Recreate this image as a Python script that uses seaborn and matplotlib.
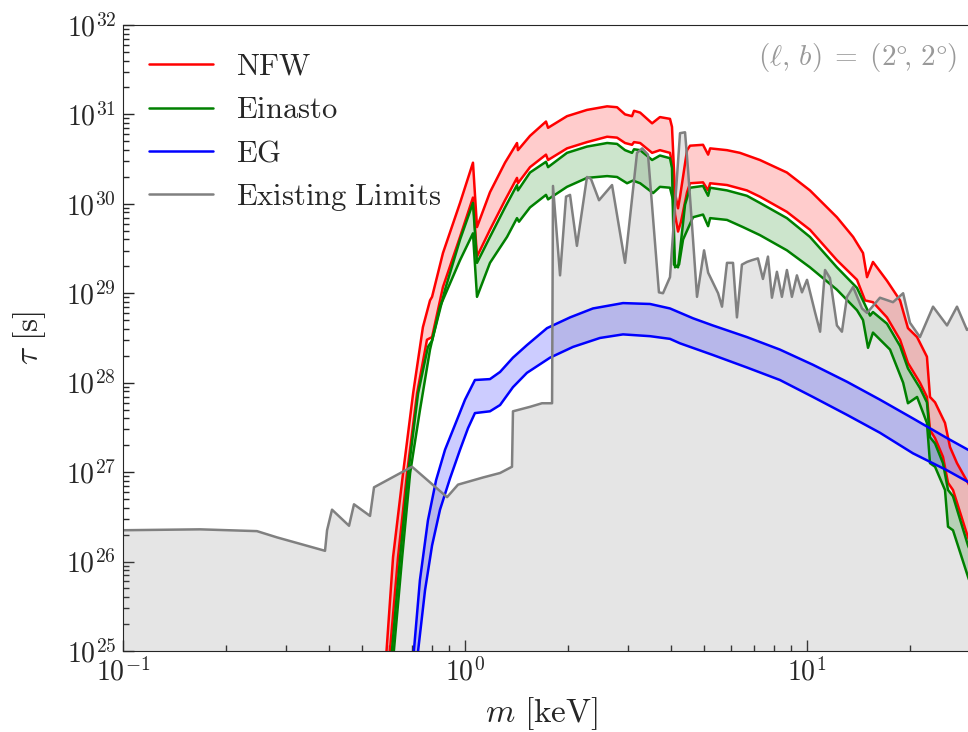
import numpy as np
import matplotlib
matplotlib.use("Agg")
import matplotlib.pyplot as plt
from matplotlib import ticker
import seaborn as sns

# mass m [keV] and log10(tau / s)
nfw_hi_m = [0.587, 0.616, 0.659, 0.705, 0.753, 0.790, 0.801, 0.862, 0.967, 1.055,
            1.084, 1.183, 1.309, 1.419, 1.428, 1.549, 1.725, 1.749, 1.987, 2.273,
            2.603, 2.783, 2.937, 3.078, 3.120, 3.251, 3.524, 3.715, 3.975, 4.029,
            4.112, 4.196, 4.253, 4.459, 4.550, 4.965, 5.139, 5.209, 5.834, 6.365,
            7.283, 8.734, 10.20, 12.23, 13.64, 14.58, 14.98, 15.59, 17.13, 18.71,
            19.73, 20.98, 22.42, 22.89, 23.68, 25.32, 26.19, 27.45, 29.56, 34.3]
nfw_hi_lt = [24.9, 26.05, 26.99, 27.88, 28.62, 28.92, 28.96, 29.45, 30.01, 30.46,
             29.74, 30.13, 30.46, 30.68, 30.60, 30.76, 30.92, 30.85, 30.98, 31.05,
             31.09, 31.08, 31.00, 30.98, 31.04, 31.02, 30.90, 30.97, 30.95, 30.86,
             30.12, 29.95, 30.08, 30.60, 30.65, 30.66, 30.55, 30.62, 30.60, 30.57,
             30.49, 30.35, 30.15, 29.85, 29.63, 29.45, 29.18, 29.35, 29.14, 28.92,
             28.61, 28.51, 28.29, 27.84, 27.78, 27.55, 27.28, 27.10, 26.88, 26.41]

nfw_lo_m = [0.600, 0.637, 0.677, 0.724, 0.774, 0.801, 0.862, 0.967, 1.055, 1.084,
            1.183, 1.309, 1.419, 1.428, 1.549, 1.725, 1.749, 1.987, 2.273, 2.603,
            2.783, 2.937, 3.078, 3.120, 3.251, 3.524, 3.715, 3.975, 4.029, 4.112,
            4.196, 4.281, 4.459, 4.550, 4.965, 5.139, 5.209, 5.834, 6.671, 7.283,
            8.734, 10.20, 12.23, 14.00, 14.78, 15.59, 17.13, 18.71, 19.73, 21.39,
            22.42, 22.89, 23.68, 24.98, 25.84, 26.72, 29.56, 34.3]
nfw_lo_lt = [24.9, 26.05, 26.99, 27.88, 28.48, 28.51, 29.07, 29.63, 30.07, 29.41,
             29.71, 30.04, 30.29, 30.23, 30.41, 30.55, 30.49, 30.62, 30.69, 30.75,
             30.74, 30.68, 30.66, 30.69, 30.68, 30.57, 30.60, 30.57, 30.46, 29.88,
             29.69, 29.80, 30.13, 30.23, 30.24, 30.15, 30.23, 30.21, 30.15, 30.08,
             29.91, 29.71, 29.37, 29.15, 28.92, 28.90, 28.73, 28.48, 28.22, 28.00,
             27.84, 27.47, 27.38, 27.17, 26.88, 26.80, 26.27, 25.68]

ein_hi_m = [0.608, 0.646, 0.682, 0.729, 0.779, 0.801, 0.874, 0.967, 1.055, 1.084,
            1.183, 1.309, 1.419, 1.428, 1.549, 1.725, 1.749, 1.987, 2.273, 2.603,
            2.783, 2.937, 3.078, 3.120, 3.251, 3.524, 3.715, 3.975, 4.029, 4.084,
            4.196, 4.253, 4.399, 4.550, 4.965, 5.139, 5.209, 5.834, 6.671, 7.283,
            8.734, 10.20, 12.23, 14.00, 14.78, 15.29, 15.59, 17.13, 18.71, 19.73,
            21.39, 22.42, 22.89, 23.68, 24.98, 25.84, 26.72, 29.56, 34.3]
ein_hi_lt = [24.9, 26.05, 26.99, 27.88, 28.40, 28.47, 29.04, 29.60, 30.01, 29.34,
             29.63, 29.96, 30.21, 30.15, 30.35, 30.47, 30.41, 30.57, 30.64, 30.68,
             30.67, 30.60, 30.57, 30.61, 30.60, 30.49, 30.54, 30.51, 30.40, 29.32,
             29.29, 29.48, 29.99, 30.18, 30.20, 30.09, 30.18, 30.15, 30.09, 30.01,
             29.84, 29.63, 29.29, 29.06, 28.87, 28.75, 28.79, 28.66, 28.41, 28.16,
             27.94, 27.78, 27.39, 27.32, 27.10, 26.80, 26.73, 26.18, 25.57]

ein_lo_m = [0.616, 0.655, 0.691, 0.738, 0.790, 0.845, 0.967, 1.055, 1.084, 1.183,
            1.327, 1.419, 1.438, 1.549, 1.725, 1.749, 1.987, 2.273, 2.603, 2.783,
            2.977, 3.099, 3.251, 3.548, 3.715, 3.975, 4.057, 4.112, 4.225, 4.340,
            4.642, 4.965, 5.139, 5.209, 5.834, 6.494, 7.283, 8.734, 10.20, 12.23,
            14.00, 14.58, 15.08, 15.59, 17.49, 19.10, 19.73, 20.98, 22.42, 22.89,
            23.68, 25.32, 25.84, 26.72, 29.56, 34.3]
ein_lo_lt = [24.9, 26.05, 26.99, 27.69, 28.37, 28.85, 29.37, 29.67, 28.96, 29.34,
             29.63, 29.84, 29.80, 29.96, 30.10, 30.05, 30.19, 30.29, 30.31, 30.30,
             30.23, 30.26, 30.23, 30.12, 30.19, 30.18, 30.04, 29.29, 29.32, 29.60,
             29.85, 29.88, 29.75, 29.84, 29.82, 29.74, 29.65, 29.48, 29.29, 29.04,
             28.81, 28.70, 28.39, 28.56, 28.37, 28.00, 27.77, 27.84, 27.55, 27.10,
             27.06, 26.80, 26.39, 26.35, 25.83, 25.12]

eg_hi_m = [0.705, 0.738, 0.779, 0.823, 0.874, 0.935, 1.000, 1.069, 1.183, 1.266,
           1.381, 1.517, 1.737, 2.028, 2.366, 2.897, 3.475, 3.975, 4.642, 5.303,
           6.671, 8.332, 10.41, 13.09, 16.34, 20.41, 25.67, 29.56, 34.3]
eg_hi_lt = [24.9, 25.79, 26.46, 26.91, 27.25, 27.53, 27.81, 28.03, 28.04, 28.12,
            28.28, 28.42, 28.61, 28.73, 28.83, 28.89, 28.88, 28.83, 28.72, 28.64,
            28.51, 28.37, 28.20, 28.01, 27.81, 27.60, 27.38, 27.25, 27.10]

eg_lo_m = [0.724, 0.764, 0.801, 0.845, 0.904, 0.967, 1.020, 1.069, 1.183, 1.266,
           1.381, 1.517, 1.773, 2.069, 2.481, 2.897, 3.475, 3.975, 4.253, 5.303,
           6.671, 8.332, 10.41, 13.09, 16.34, 20.41, 25.67, 29.56, 34.3]
eg_lo_lt = [24.9, 25.68, 26.18, 26.58, 26.93, 27.25, 27.49, 27.66, 27.68, 27.75,
            27.95, 28.11, 28.28, 28.40, 28.50, 28.54, 28.52, 28.49, 28.44, 28.31,
            28.17, 28.03, 27.84, 27.64, 27.44, 27.21, 27.02, 26.89, 26.74]

lim_m = [0.1, 0.168, 0.2464, 0.282, 0.3896, 0.395, 0.4084, 0.458, 0.4735, 0.5275,
         0.5419, 0.6998, 0.886, 0.954, 1.129, 1.266, 1.372, 1.381, 1.549, 1.679,
         1.797, 1.808, 1.896, 1.974, 2.028, 2.124, 2.273, 2.334, 2.465, 2.691,
         2.937, 3.184, 3.296, 3.428, 3.690, 3.792, 3.975, 4.253, 4.399, 4.489,
         4.642, 4.768, 5.000, 5.139, 5.495, 5.642, 5.834, 6.076, 6.239, 6.451,
         6.671, 6.900, 7.186, 7.432, 7.688, 7.897, 8.166, 8.445, 8.734, 9.033,
         9.342, 9.667, 10.00, 10.55, 10.92, 11.29, 11.67, 12.23, 12.65, 13.09,
         13.64, 14.48, 14.98, 16.34, 17.84, 19.10, 20.00, 21.39, 23.36, 25.67,
         27.45, 29.36, 34.3]
lim_lt = [26.35, 26.36, 26.34, 26.27, 26.12, 26.35, 26.58, 26.40, 26.64, 26.51,
          26.83, 27.06, 26.72, 26.86, 26.94, 26.99, 27.06, 27.68, 27.73, 27.77,
          27.77, 30.20, 29.20, 30.08, 30.10, 29.53, 30.30, 30.28, 30.04, 30.21,
          29.34, 30.57, 30.62, 30.55, 29.01, 29.00, 29.18, 30.79, 30.80, 30.38,
          29.60, 28.96, 29.48, 29.23, 29.00, 28.85, 29.34, 29.34, 28.73, 29.32,
          29.35, 29.37, 29.39, 29.16, 29.41, 28.95, 29.24, 28.96, 29.26, 28.96,
          29.20, 29.01, 29.15, 28.79, 28.57, 29.26, 29.17, 28.64, 28.57, 28.96,
          29.07, 28.83, 28.78, 28.95, 28.90, 29.00, 28.67, 28.51, 28.85, 28.64,
          28.85, 28.59, 28.81]

bands = [
    ("NFW", "red", nfw_hi_m, nfw_hi_lt, nfw_lo_m, nfw_lo_lt),
    ("Einasto", "green", ein_hi_m, ein_hi_lt, ein_lo_m, ein_lo_lt),
    ("EG", "blue", eg_hi_m, eg_hi_lt, eg_lo_m, eg_lo_lt),
]

sns.set_style("ticks")
plt.rcParams["mathtext.fontset"] = "cm"

fig = plt.figure(figsize=(9.68, 7.32), dpi=100)
# axes run past the right edge of the figure, as in the original crop
ax = fig.add_axes([0.1271, 0.1107, 0.9193, 0.8552])
ax.set_xscale("log")
ax.set_yscale("log")

lim_tau = 10 ** np.array(lim_lt)
ax.fill_between(lim_m, lim_tau, 1e20, color="gray", alpha=0.2, lw=0)

for name, col, hm, hl, lm, ll in bands:
    xs = np.r_[hm, lm[::-1]]
    ys = 10 ** np.r_[hl, ll[::-1]]
    ax.fill(xs, ys, color=col, alpha=0.2, lw=0)

for name, col, hm, hl, lm, ll in bands:
    sns.lineplot(x=hm, y=10 ** np.array(hl), color=col, lw=1.8, sort=False,
                 estimator=None, label=r"$\mathrm{%s}$" % name, ax=ax)
    sns.lineplot(x=lm, y=10 ** np.array(ll), color=col, lw=1.8, sort=False,
                 estimator=None, ax=ax)
sns.lineplot(x=lim_m, y=lim_tau, color="gray", lw=1.8, sort=False,
             estimator=None, label=r"$\mathrm{Existing\ Limits}$", ax=ax)

ax.set_xlim(0.1, 40)
ax.set_ylim(1e25, 1e32)

fmt = ticker.FuncFormatter(lambda v, p: r"$10^{%d}$" % int(round(np.log10(v))))
ax.xaxis.set_major_formatter(fmt)
ax.yaxis.set_major_formatter(fmt)
ax.yaxis.set_major_locator(ticker.LogLocator(base=10, numticks=12))
ax.xaxis.set_minor_formatter(ticker.NullFormatter())
ax.yaxis.set_minor_formatter(ticker.NullFormatter())
ax.tick_params(which="both", direction="in", top=False, right=False,
               labelsize=20, width=1)
ax.tick_params(which="major", length=8, pad=5)
ax.tick_params(which="minor", length=4)

ax.set_xlabel(r"$m\ [\mathrm{keV}]$", fontsize=24)
ax.set_ylabel(r"$\tau\ [\mathrm{s}]$", fontsize=24)
ax.xaxis.set_label_coords(0.470, -0.07)
ax.yaxis.set_label_coords(-0.0843, 0.5)

fig.text(0.9886, 0.922, r"$(\ell,\, b)\; =\; (2\degree\!,\, 2\degree)$",
         color="#999999", fontsize=21, ha="right", va="center")

ax.legend(loc="upper left", bbox_to_anchor=(149 / 968, 0.929),
          bbox_transform=fig.transFigure, frameon=False, fontsize=22,
          handlelength=2.1, handletextpad=0.75, labelspacing=0.47,
          borderpad=0, borderaxespad=0)

fig.savefig("out.png", dpi=100)
